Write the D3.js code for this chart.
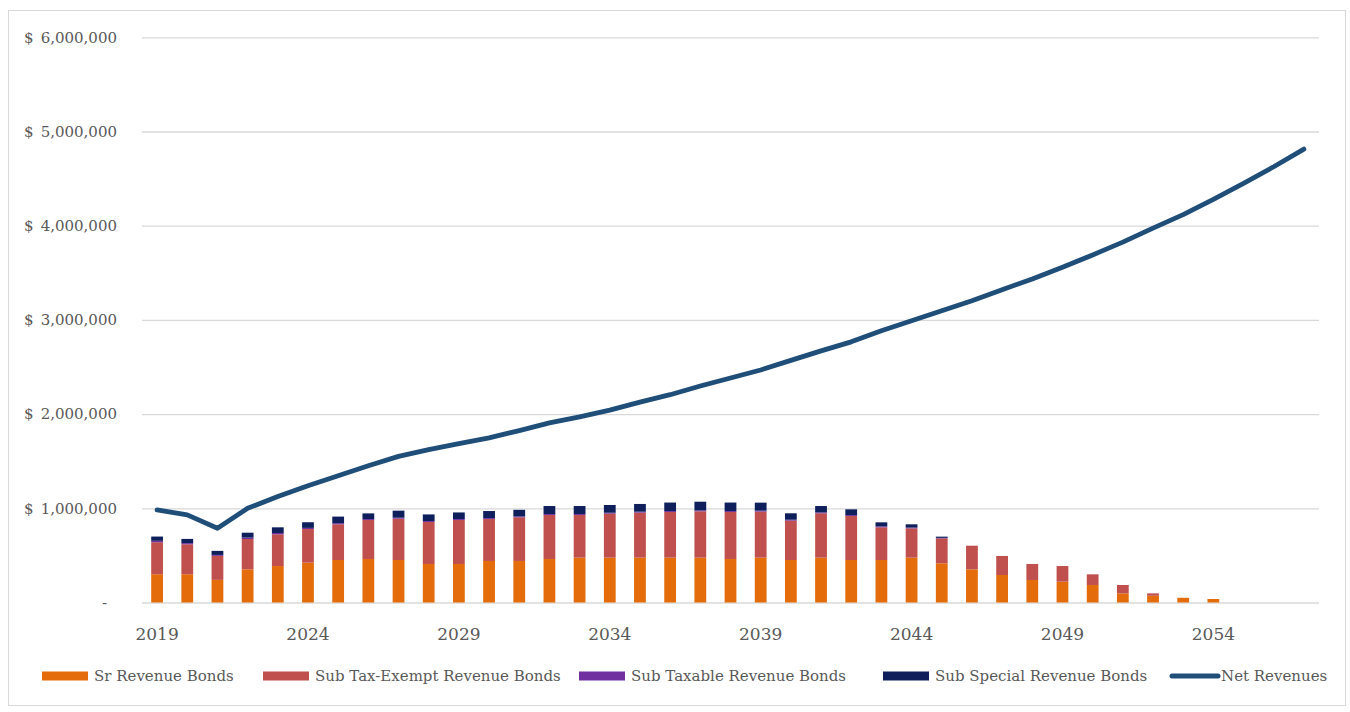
<!DOCTYPE html>
<html>
<head>
<meta charset="utf-8">
<script src="https://cdn.jsdelivr.net/npm/d3@7/dist/d3.min.js"></script>
<style>
  html, body { margin: 0; padding: 0; background: #fff; }
  svg { display: block; }
  text { font-family: "DejaVu Serif", serif; fill: #595959; }
</style>
</head>
<body>
<svg id="chart" width="1350" height="712"></svg>
<script>
// ---------- DATA ----------
const years = d3.range(2019, 2058).map(String);
const xTickLabels = ["2019", "2024", "2029", "2034", "2039", "2044", "2049", "2054"];
const yTicks = [0, 1000000, 2000000, 3000000, 4000000, 5000000, 6000000];

const seriesNames = ["Sr Revenue Bonds", "Sub Tax-Exempt Revenue Bonds", "Sub Taxable Revenue Bonds", "Sub Special Revenue Bonds"];
const lineName = "Net Revenues";

const srRevenue = [300000, 300000, 240000, 352000, 387000, 423000, 451000, 462000, 451000, 409000,
  409000, 441000, 441000, 462000, 476000, 476000, 476000, 476000, 476000, 462000,
  476000, 451000, 476000, 451000, 451000, 476000, 416000, 352000, 292000, 239000,
  221000, 186000, 97000, 72000, 50000, 37000, 0, 0, 0];
const subTaxExempt = [340000, 318000, 255000, 322000, 337000, 357000, 379000, 414000, 439000, 446000,
  467000, 445000, 463000, 467000, 453000, 467000, 478000, 485000, 492000, 499000,
  489000, 418000, 471000, 467000, 347000, 311000, 265000, 251000, 202000, 170000,
  166000, 113000, 89000, 25000, 0, 0, 0, 0, 0];
const subTaxable = [15000, 12000, 10000, 15000, 14000, 12000, 12000, 10000, 10000, 10000,
  10000, 10000, 10000, 10000, 10000, 10000, 10000, 10000, 10000, 10000,
  10000, 10000, 10000, 10000, 10000, 8000, 5000, 0, 0, 0,
  0, 0, 0, 0, 0, 0, 0, 0, 0];
const subSpecial = [45000, 45000, 43000, 52000, 60000, 60000, 70000, 60000, 75000, 70000,
  70000, 75000, 70000, 85000, 85000, 82000, 82000, 90000, 92000, 90000,
  85000, 68000, 67000, 61000, 43000, 35000, 13000, 0, 0, 0,
  0, 0, 0, 0, 0, 0, 0, 0, 0];
const netRevenues = [983000, 930000, 788000, 1000000, 1125000, 1239000, 1345000, 1452000, 1551000, 1623000,
  1687000, 1747000, 1825000, 1907000, 1971000, 2042000, 2127000, 2206000, 2298000, 2383000,
  2468000, 2570000, 2671000, 2767000, 2884000, 2990000, 3097000, 3204000, 3321000, 3435000,
  3560000, 3690000, 3826000, 3975000, 4117000, 4280000, 4450000, 4626000, 4813000];

const colors = ["#E46C0A", "#C0504D", "#7030A0", "#0E1F5B"];
const lineColor = "#1F4E79";

// ---------- CHART ----------
const svg = d3.select("#chart");
const plot = { left: 142, right: 1319, top: 37.3, bottom: 602.5 };

// outer border
svg.append("rect")
  .attr("x", 8.5).attr("y", 10.5)
  .attr("width", 1337).attr("height", 695)
  .attr("fill", "none").attr("stroke", "#d9d9d9").attr("stroke-width", 1);

const x = d3.scaleBand().domain(years).range([plot.left, plot.right])
  .paddingInner(0.61).paddingOuter(0.305);
const y = d3.scaleLinear().domain([0, 6000000]).range([plot.bottom, plot.top]);

// gridlines + y labels
const yAxis = d3.axisLeft(y).tickValues(yTicks)
  .tickSize(-(plot.right - plot.left))
  .tickPadding(25)
  .tickFormat(d => d === 0 ? "-" : d3.format(",")(d));
const yg = svg.append("g").attr("transform", `translate(${plot.left},0)`).call(yAxis);
yg.select(".domain").remove();
yg.selectAll(".tick line").attr("stroke", "#d9d9d9").attr("stroke-width", 1.3);
yg.selectAll(".tick text")
  .attr("font-size", 15).attr("fill", "#595959")
  .style("font-family", "DejaVu Serif")
  .attr("x", d => d === 0 ? -35 : -25);
yg.selectAll(".tick").filter(d => d !== 0).append("text")
  .attr("x", 24 - plot.left).attr("dy", "0.32em")
  .attr("text-anchor", "start").attr("font-size", 15)
  .attr("fill", "#595959").style("font-family", "DejaVu Serif")
  .text("$");

// stacked bars
const tableRows = years.map((yr, i) => ({
  year: yr,
  s0: srRevenue[i], s1: subTaxExempt[i], s2: subTaxable[i], s3: subSpecial[i]
}));
const stack = d3.stack().keys(["s0", "s1", "s2", "s3"]);
const stacked = stack(tableRows);

svg.append("g").selectAll("g")
  .data(stacked).join("g")
  .attr("fill", (d, i) => colors[i])
  .selectAll("rect")
  .data(d => d.filter(p => p[1] - p[0] > 0))
  .join("rect")
  .attr("x", d => x(d.data.year))
  .attr("width", x.bandwidth())
  .attr("y", d => y(d[1]))
  .attr("height", d => y(d[0]) - y(d[1]));

// x axis
const xAxis = d3.axisBottom(x).tickValues(xTickLabels).tickSize(0).tickPadding(25);
const xg = svg.append("g").attr("transform", `translate(0,${plot.bottom})`).call(xAxis);
xg.select(".domain").remove();
xg.selectAll(".tick text").attr("font-size", 17).attr("fill", "#595959")
  .style("font-family", "DejaVu Serif");

// line
const line = d3.line()
  .x((d, i) => x(years[i]) + x.bandwidth() / 2)
  .y(d => y(d));
svg.append("path")
  .datum(netRevenues)
  .attr("fill", "none")
  .attr("stroke", lineColor)
  .attr("stroke-width", 4.8)
  .attr("stroke-linejoin", "round")
  .attr("stroke-linecap", "round")
  .attr("d", line);

// legend
const legendItems = [
  { name: seriesNames[0], color: colors[0], type: "rect", x: 42 },
  { name: seriesNames[1], color: colors[1], type: "rect", x: 263 },
  { name: seriesNames[2], color: colors[2], type: "rect", x: 579 },
  { name: seriesNames[3], color: colors[3], type: "rect", x: 883 },
  { name: lineName, color: lineColor, type: "line", x: 1170 }
];
const lg = svg.append("g");
const ly = 676;
legendItems.forEach(it => {
  if (it.type === "rect") {
    lg.append("rect").attr("x", it.x).attr("y", ly - 4.5)
      .attr("width", 46).attr("height", 9).attr("fill", it.color);
    lg.append("text").attr("x", it.x + 52).attr("y", ly).attr("dy", "0.35em")
      .attr("font-size", 15).text(it.name);
  } else {
    lg.append("line").attr("x1", it.x + 2).attr("x2", it.x + 48)
      .attr("y1", ly).attr("y2", ly)
      .attr("stroke", it.color).attr("stroke-width", 5).attr("stroke-linecap", "round");
    lg.append("text").attr("x", it.x + 51).attr("y", ly).attr("dy", "0.35em")
      .attr("font-size", 15).text(it.name);
  }
});
</script>
</body>
</html>
